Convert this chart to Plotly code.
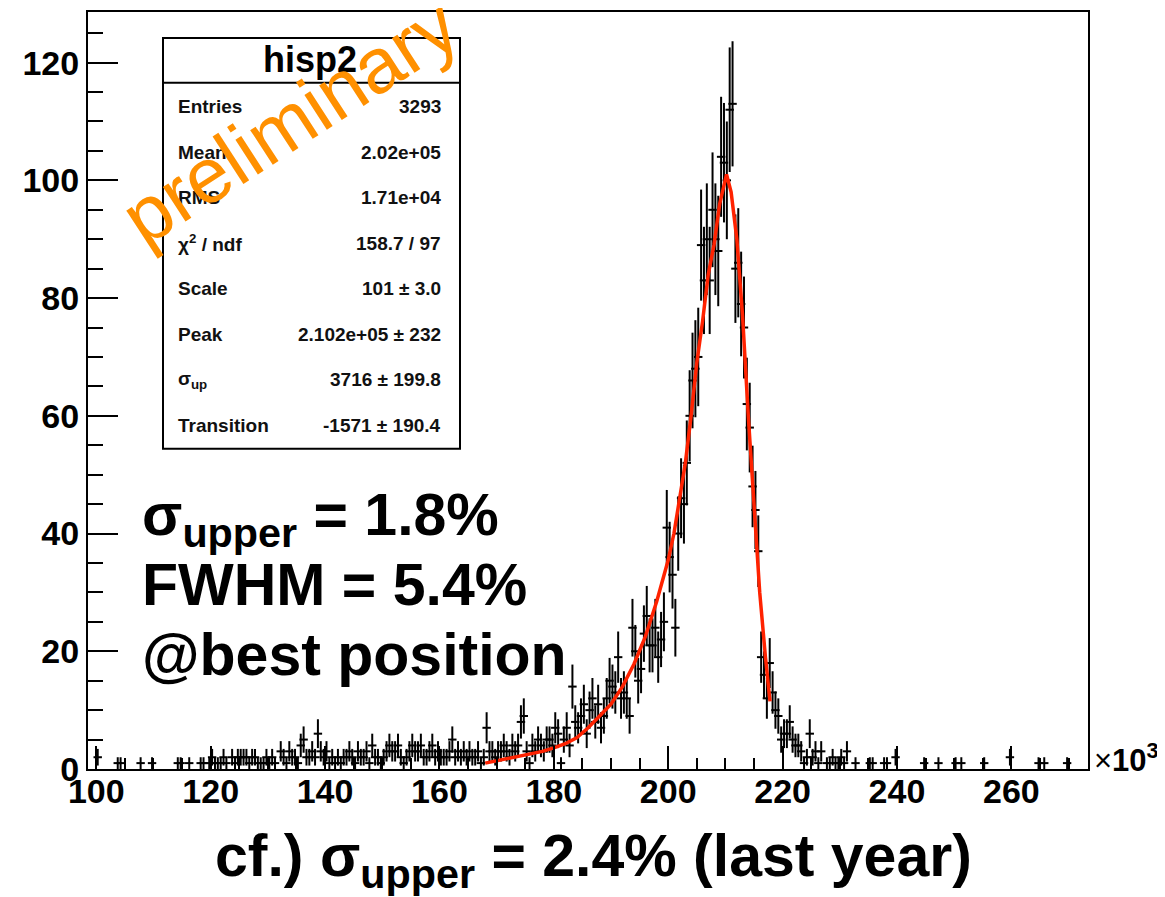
import numpy as np
import plotly.graph_objects as go

# histogram hisp2: 0.5k wide bins, first bin starts at 99.0k
bin_start = 99.0
bin_width = 0.5

counts_099 = [0, 0, 2, 0, 0, 0, 0, 0, 0, 1, 1, 0, 0, 0, 0, 0, 0, 1, 0, 0]
counts_109 = [0, 1, 0, 0, 0, 0, 0, 0, 0, 0, 1, 1, 0, 0, 1, 0, 0, 0, 1, 1]
counts_119 = [0, 1, 2, 1, 1, 1, 2, 1, 0, 2, 1, 2, 2, 2, 2, 1, 2, 2, 1, 1]
counts_129 = [1, 2, 1, 2, 1, 0, 3, 2, 1, 3, 2, 2, 1, 4, 5, 2, 2, 3, 2, 6]
counts_139 = [3, 2, 3, 1, 2, 1, 2, 1, 2, 2, 3, 2, 1, 3, 2, 2, 3, 1, 4, 2]
counts_149 = [2, 1, 2, 3, 4, 3, 3, 4, 2, 1, 2, 3, 4, 3, 3, 4, 2, 2, 3, 4]
counts_159 = [2, 3, 2, 2, 2, 3, 5, 2, 3, 2, 3, 2, 3, 2, 2, 3, 1, 2, 7, 3]
counts_169 = [3, 2, 3, 3, 4, 3, 2, 4, 3, 4, 8, 9, 3, 1, 4, 3, 5, 4, 3, 5]
counts_179 = [5, 4, 7, 6, 1, 5, 7, 4, 14, 8, 7, 9, 11, 6, 10, 12, 8, 11, 7, 9]
counts_189 = [12, 15, 14, 13, 19, 12, 13, 12, 9, 24, 20, 15, 17, 23, 26, 21, 21, 24, 19, 22]
counts_199 = [25, 41, 36, 33, 24, 40, 46, 45, 52, 60, 66, 68, 70, 89, 83, 90, 83, 95, 90, 88]
counts_209 = [104, 103, 100, 112, 113, 85, 86, 79, 75, 62, 58, 48, 44, 37, 19, 16, 12, 18, 13, 10]
counts_219 = [9, 5, 6, 6, 8, 5, 4, 4, 3, 1, 2, 6, 2, 3, 1, 3, 0, 1, 1, 2]
counts_229 = [1, 1, 2, 1, 3, 0, 0, 1, 0, 0, 0, 0, 1, 1, 0, 0, 0, 1, 1, 0]
counts_239 = [0, 2, 0, 0, 0, 0, 0, 0, 0, 0, 0, 1, 0, 0, 0, 0, 1, 0, 0, 0]
counts_249 = [0, 0, 1, 0, 1, 0, 0, 0, 0, 0, 0, 0, 1, 0, 0, 0, 0, 0, 0, 0]
counts_259 = [0, 2, 0, 0, 0, 0, 0, 0, 0, 0, 0, 1, 0, 1, 0, 0, 0, 0, 0, 0]
counts_269 = [0, 1, 0, 0, 0, 0, 0, 0]

# fitted function as drawn, x in units of 10^3
fit_x = [168.0, 170, 172, 174, 176, 178, 180, 182, 184, 186, 188, 190, 192, 194, 196,
         198, 200, 201, 202, 203, 204, 205, 206, 207, 208, 209, 210.2, 211, 212, 213,
         214, 215, 216, 217, 217.8]
fit_y = [1.0, 1.4, 1.8, 2.3, 2.7, 3.0, 3.6, 4.3, 5.3, 7.0, 9.0, 11.0, 14.0, 17.8, 22.5,
         28.5, 35.5, 40, 46, 52, 60, 69, 76, 84, 89, 96, 101, 98, 90, 77,
         60, 44, 30, 19, 11.5]

stats_labels = ["Entries", "Mean", "RMS", "χ<sup>2</sup> / ndf", "Scale", "Peak",
                "σ<sub>up</sub>", "Transition"]
stats_values = ["3293", "2.02e+05", "1.71e+04", "158.7 / 97", "101 ± 3.0",
                "2.102e+05 ± 232", "3716 ± 199.8", "-1571 ± 190.4"]

FONT = "Liberation Sans, Arial, Helvetica, sans-serif"

counts = np.array(counts_099 + counts_109 + counts_119 + counts_129 + counts_139 +
                  counts_149 + counts_159 + counts_169 + counts_179 + counts_189 +
                  counts_199 + counts_209 + counts_219 + counts_229 + counts_239 +
                  counts_249 + counts_259 + counts_269, dtype=float)
centers = bin_start + bin_width * (np.arange(len(counts)) + 0.5)
nz = counts > 0

# plot frame in page pixels; the page body adds an 8px offset
OFF = 8
W, H = 1165 - OFF, 897 - OFF
L, R, T, B = 88, 1088, 10, 769


def px(x):
    return (x - L) / (R - L)


def py(y):
    return (B - y) / (B - T)


def note(x, y, text, size, xanchor="center", yanchor="middle", color="black", **kw):
    return dict(xref="paper", yref="paper", x=px(x), y=py(y), text=text,
                showarrow=False, xanchor=xanchor, yanchor=yanchor,
                font=dict(family=FONT, size=size, color=color), **kw)


fig = go.Figure()

fig.add_trace(go.Scatter(
    x=centers[nz], y=counts[nz], mode="markers",
    marker=dict(symbol="line-ew", size=6, line=dict(color="black", width=2)),
    error_y=dict(type="data", array=np.sqrt(counts[nz]), color="black",
                 thickness=2, width=0),
    showlegend=False, hoverinfo="skip"))

fig.add_trace(go.Scatter(
    x=fit_x, y=fit_y, mode="lines", line=dict(color="#ff2200", width=3.5),
    showlegend=False, hoverinfo="skip"))

# stats box
shapes = [
    dict(type="rect", xref="paper", yref="paper", x0=px(163), x1=px(460),
         y0=py(448), y1=py(36), line=dict(color="black", width=2), fillcolor="white",
         layer="above"),
    dict(type="line", xref="paper", yref="paper", x0=px(163), x1=px(460),
         y0=py(81), y1=py(81), line=dict(color="black", width=2), layer="above"),
]

annotations = [note(310, 58, "<b>hisp2</b>", 36)]
for i, (lab, val) in enumerate(zip(stats_labels, stats_values)):
    yy = 105 + i * 45.6
    annotations.append(note(176, yy, "<b>" + lab + "</b>", 19, xanchor="left", color="#111"))
    annotations.append(note(443, yy, "<b>" + val + "</b>", 19, xanchor="right", color="#111"))

# preliminary stamp
annotations.append(note(289, 120, "preliminary", 78, color="#ff9000", textangle=-33))

annotations += [
    note(140, 518, "<b>σ<sub>upper</sub> = 1.8%</b>", 59, xanchor="left"),
    note(140, 585, "<b>FWHM = 5.4%</b>", 59, xanchor="left"),
    note(140, 655, "<b>@best position</b>", 59, xanchor="left"),
    note(593, 860, "<b>cf.) σ<sub>upper</sub> = 2.4% (last year)</b>", 59),
    note(1092, 758, "×<b>10<sup>3</sup></b>", 31, xanchor="left"),
]

fig.update_layout(
    width=W, height=H,
    margin=dict(l=L - OFF, r=W - (R - OFF), t=T - OFF, b=H - (B - OFF)),
    paper_bgcolor="white", plot_bgcolor="white",
    shapes=shapes, annotations=annotations,
    xaxis=dict(range=[98.55, 273.4], tickvals=[100, 120, 140, 160, 180, 200, 220, 240, 260],
               ticks="inside", ticklen=23, tickwidth=2, tickcolor="black",
               ticklabelstandoff=-9,
               minor=dict(ticks="inside", ticklen=11, tickwidth=2, dtick=5, tick0=0,
                          tickcolor="black", showgrid=False),
               showline=True, linecolor="black", linewidth=2, mirror=True,
               showgrid=False, zeroline=False,
               tickfont=dict(family=FONT, size=34, color="black", weight="bold")),
    yaxis=dict(range=[0, 128.6], tickvals=[0, 20, 40, 60, 80, 100, 120],
               ticks="inside", ticklen=30, tickwidth=2, tickcolor="black",
               minor=dict(ticks="inside", ticklen=15, tickwidth=2, dtick=5, tick0=0,
                          tickcolor="black", showgrid=False),
               showline=True, linecolor="black", linewidth=2, mirror=True,
               showgrid=False, zeroline=False,
               tickfont=dict(family=FONT, size=34, color="black", weight="bold")),
)

fig.write_html("out.html")
